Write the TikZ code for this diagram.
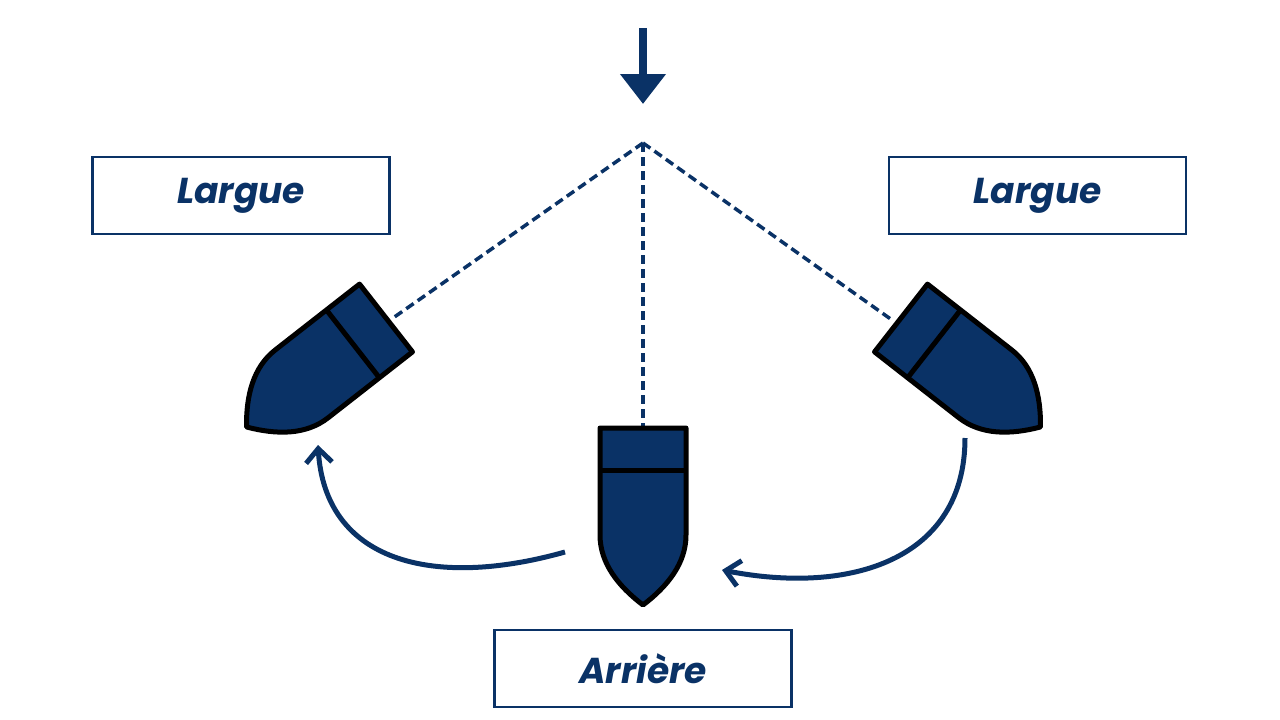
\documentclass[tikz,border=0pt]{standalone}
\usepackage{fontspec}
\setmainfont{Poppins}
\usetikzlibrary{arrows.meta}
\definecolor{navy}{HTML}{0A3266}
\begin{document}
\begin{tikzpicture}[x=1pt,y=-1pt,
  lbl/.style={draw=navy,line width=2.5pt,minimum width=297pt,minimum height=77pt,text=navy,font=\fontsize{36}{36}\selectfont\bfseries\itshape},
  wind/.style={navy,line width=3.5pt,dash pattern=on 9pt off 5pt},
  turn/.style={navy,line width=5pt,-{Straight Barb[length=14pt,width=26pt,line width=5pt]}},
  hull/.style={fill=navy,draw=black,line width=5pt,line join=round}]
\useasboundingbox (0,0) rectangle (1280,720);
\node[lbl] (l1) at (241,195.5) {Largue};
\node[lbl] (l2) at (1037.5,195.5) {Largue};
\node[lbl] (ar) at (643,668.5) {Arrière};
\coordinate (apex) at (643,143);
\coordinate (sc) at (643,428);
\coordinate (sl) at (393,318);
\coordinate (sr) at (892,320);
\draw[wind] (apex) -- (sc);
\draw[wind] (apex) -- (sl);
\draw[wind] (apex) -- (sr);
\foreach \px/\py/\r in {643/428/0,386/318/-52,901/318/52}{
\begin{scope}[xshift=\px pt,yshift=-\py pt,rotate=\r]
\draw[hull] (-43,0) -- (43,0) -- (43,107) .. controls (43,135) and (25,158) .. (0,177) .. controls (-25,158) and (-43,135) .. (-43,107) -- cycle;
\draw[black,line width=5pt] (-43,42) -- (43,42);
\end{scope}}
\coordinate (t0) at (643,28);
\coordinate (t1) at (643,104);
\draw[navy,line width=8pt,-{Triangle[length=30pt,width=44pt]}] (t0) -- (t1);
\coordinate (a1) at (565,552);
\coordinate (a2) at (318,445);
\draw[turn] (a1) .. controls (430,590) and (325,560) .. (a2);
\coordinate (b1) at (965,438);
\coordinate (b2) at (722,570);
\draw[turn] (b1) .. controls (965,560) and (850,595) .. (b2);
\end{tikzpicture}
\end{document}
